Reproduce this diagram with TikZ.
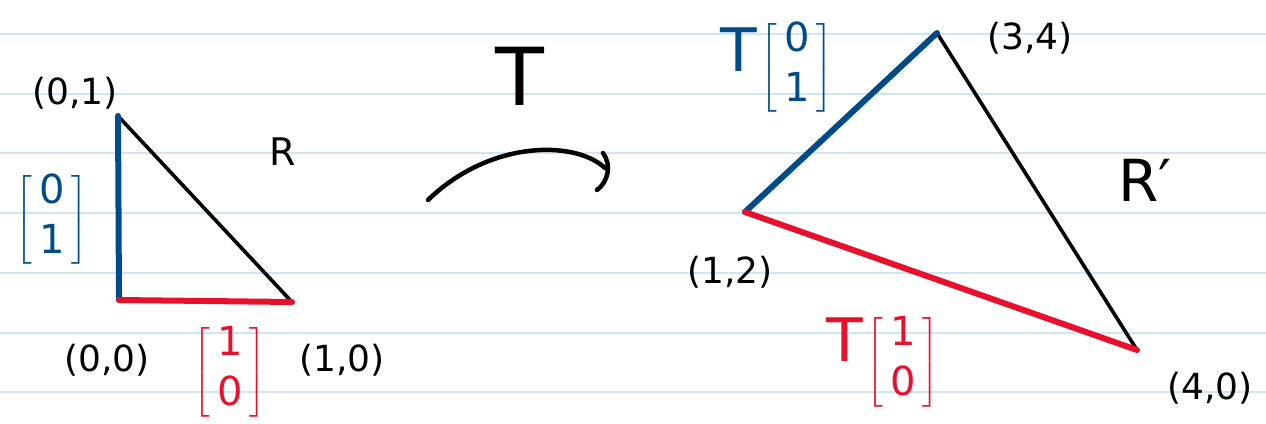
\documentclass[tikz,border=0pt]{standalone}
\usepackage{amsmath}
\usepackage{fontspec}
\setmainfont{DejaVu Sans}
\usetikzlibrary{positioning}
\definecolor{PaperLine}{HTML}{CCE6F8}
\definecolor{VecBlue}{HTML}{004C89}
\definecolor{VecRed}{HTML}{E8112D}
\newcommand{\colvec}[2]{$\left[\begin{array}{@{\hspace{7pt}}c@{\hspace{7pt}}}\text{#1}\\[6pt]\text{#2}\end{array}\right]$}

\begin{document}
\begin{tikzpicture}[x=1pt,y=-1pt,
    edge/.style={line width=3.6pt,line cap=round,line join=round},
    basis/.style={line width=6pt,line cap=round},
    pt/.style={font=\fontsize{36}{40}\selectfont,inner sep=0pt},
    vec/.style={font=\fontsize{40}{44}\selectfont,inner sep=0pt}]
  \useasboundingbox (0,0) rectangle (1266,423);
  % lined paper
  \foreach \k in {0,...,6}
    \draw[PaperLine,line width=2pt] (0,{34+59.7*\k}) -- (1266,{34+59.7*\k});

  % unit triangle R
  \coordinate (o) at (119,300);
  \coordinate (e2) at (118,116);
  \coordinate (e1) at (292,302);
  \draw[edge] (o) -- (e2) -- (e1) -- cycle;
  \draw[basis,VecBlue] (e2) -- (o);
  \draw[basis,VecRed] (o) -- (e1);
  \node[pt] (lo) at (107,360) {(0,0)};
  \node[pt] (le2) at (75,93) {(0,1)};
  \node[pt] (le1) at (342,360) {(1,0)};
  \node[font=\fontsize{38}{44}\selectfont] (lR) at (283,152) {R};
  \node[vec,text=VecBlue] (ve2) at (52,220) {\colvec{0}{1}};
  \node[vec,text=VecRed] (ve1) at (230,372) {\colvec{1}{0}};

  % the map T
  \coordinate (mapA) at (428,200);
  \coordinate (mapB) at (605,168);
  \draw[line width=4.5pt,line cap=round] (mapA) .. controls (490,140) and (575,140) .. (mapB);
  \draw[line width=4.5pt,line cap=round] (603,153) .. controls (612,165) and (608,182) .. (597,190);
  \node[font=\fontsize{80}{88}\selectfont] (lT) at (520,76) {T};

  % image triangle R'
  \coordinate (p) at (745,212);
  \coordinate (q) at (937,33);
  \coordinate (r) at (1137,350);
  \draw[edge] (p) -- (q) -- (r) -- cycle;
  \draw[basis,VecBlue] (p) -- (q);
  \draw[basis,VecRed] (p) -- (r);
  \node[pt] (lp) at (730,272) {(1,2)};
  \node[pt] (lq) at (1030,38) {(3,4)};
  \node[pt] (lr) at (1210,388) {(4,0)};
  \node[font=\fontsize{58}{64}\selectfont] (lR2) at (1145,180) {R′};
  \node[vec,text=VecBlue] (tve2) at (797,68) {\colvec{0}{1}};
  \node[font=\fontsize{60}{64}\selectfont,text=VecBlue,left=0pt of tve2.west,yshift=18pt] (tT2) {T};
  \node[vec,text=VecRed] (tve1) at (903,362) {\colvec{1}{0}};
  \node[font=\fontsize{60}{64}\selectfont,text=VecRed,left=0pt of tve1.west,yshift=22pt] (tT1) {T};
\end{tikzpicture}
\end{document}
